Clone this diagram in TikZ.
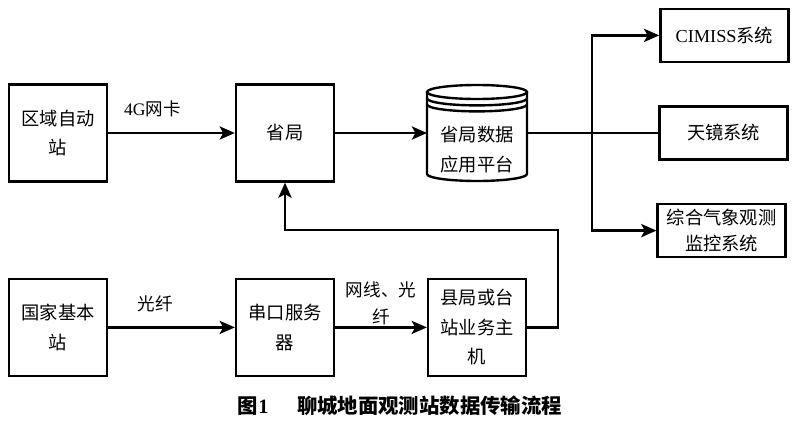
\documentclass[tikz,border=0pt]{standalone}
\usepackage{fontspec}
\setmainfont{Noto Sans CJK SC}
\newfontfamily\latin{Liberation Serif}
\usepackage{tikz}
\usetikzlibrary{arrows.meta,positioning,calc}

\begin{document}
\begin{tikzpicture}[auto, >={Stealth[length=3.8mm,width=3.3mm,inset=0.9mm]}, line width=1.7pt, font=\fontsize{13}{21}\selectfont]
    % Styles
    \tikzstyle{blk} = [draw, rectangle, minimum width=2.45cm, minimum height=2.42cm, align=center]
    \tikzstyle{sys} = [draw, rectangle, minimum width=3.2cm, minimum height=1.32cm, align=center]
    \tikzstyle{lbl} = [font=\fontsize{12.5}{19}\selectfont, align=center]

    \useasboundingbox (0,0) rectangle (20,10.725);

    % Top row: regional stations -> province
    \node[blk] (qy) at (1.45, 7.4) {区域自动\\站};
    \node[blk] (sj) at (7.125, 7.4) {省局};
    \draw[->] (qy) -- node[lbl, above=2.5mm, pos=0.35] {{\latin 4G}网卡} (sj);

    % Database (cylinder drawn by hand)
    \node[minimum width=2.5cm, minimum height=2.4cm, outer sep=0pt] (db) at (11.925, 7.4) {};
    \node[align=center] (dbtxt) at ([yshift=-4.2mm]db.center) {省局数据\\应用平台};
    \draw ([yshift=-1.75mm]db.north west) -- ([yshift=1.75mm]db.south west)
        arc[start angle=180, end angle=360, x radius=1.25cm, y radius=1.75mm]
        -- ([yshift=-1.75mm]db.north east);
    \draw ([yshift=-1.75mm]db.north) ellipse [x radius=1.25cm, y radius=1.75mm];
    \foreach \d in {1.6mm, 3.1mm}
        \draw ([yshift=-1.75mm-\d]db.north west) arc[start angle=180, end angle=360, x radius=1.25cm, y radius=1.75mm];
    \draw[->] (sj) -- (db);

    % Systems on the right
    \node[sys] (cimiss) at (18.11, 9.84) {{\latin CIMISS}系统};
    \node[sys] (tj) at (18.09, 7.4) {天镜系统};
    \node[sys, font=\fontsize{13}{19}\selectfont] (zh) at (18.04, 4.96) {综合气象观测\\监控系统};

    % Branch from database
    \coordinate (br) at (14.8, 7.4);
    \draw (db.east) -- (br);
    \draw[->] (br) |- (cimiss.west);
    \draw (br) -- (tj.west);
    \draw[->] (br) |- (zh.west);

    % Bottom row: national stations -> county host
    \node[blk] (gj) at (1.45, 2.54) {国家基本\\站};
    \node[blk] (ck) at (7.125, 2.54) {串口服务\\器};
    \node[blk] (xj) at (11.925, 2.54) {县局或台\\站业务主\\机};
    \draw[->] (gj) -- node[lbl, above=2.5mm, pos=0.37] {光纤} (ck);
    \draw[->] (ck) -- node[lbl, above, pos=0.5, inner sep=1pt] {网线、光\\纤} (xj);

    % Feedback to province
    \coordinate (fb) at (13.95, 4.975);
    \draw[->] (xj.east) -| (fb) -| (sj.south);

    % Caption
    \node[font=\fontsize{14.5}{17}\selectfont\bfseries] (cap) at (10, 0.575) {图{\latin 1}\hspace{1.4em}聊城地面观测站数据传输流程};
\end{tikzpicture}
\end{document}
